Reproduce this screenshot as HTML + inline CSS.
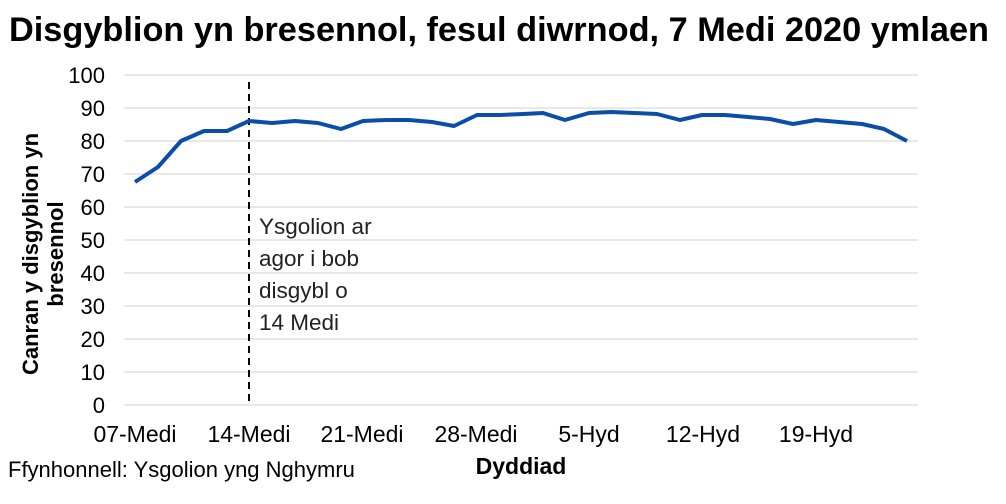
<!DOCTYPE html>
<html><head><meta charset="utf-8"><style>
body{margin:0;background:#fff}
svg{display:block;font-family:"Liberation Sans",Arial,sans-serif}
</style></head><body>
<svg width="1006" height="504" viewBox="0 0 1006 504">
<text x="499" y="41" text-anchor="middle" font-size="34" font-weight="bold" fill="#000" textLength="980" lengthAdjust="spacingAndGlyphs">Disgyblion yn bresennol, fesul diwrnod, 7 Medi 2020 ymlaen</text>
<g stroke="#d9d9d9" stroke-width="1.3">
<line x1="124" x2="918" y1="75" y2="75"/><line x1="124" x2="918" y1="108" y2="108"/><line x1="124" x2="918" y1="141" y2="141"/><line x1="124" x2="918" y1="174" y2="174"/><line x1="124" x2="918" y1="207" y2="207"/><line x1="124" x2="918" y1="240" y2="240"/><line x1="124" x2="918" y1="273" y2="273"/><line x1="124" x2="918" y1="306" y2="306"/><line x1="124" x2="918" y1="339" y2="339"/><line x1="124" x2="918" y1="372" y2="372"/><line x1="124" x2="918" y1="405" y2="405"/>
</g>
<g font-size="22" fill="#000" text-anchor="end">
<text x="105" y="83">100</text><text x="105" y="116">90</text><text x="105" y="149">80</text><text x="105" y="182">70</text><text x="105" y="215">60</text><text x="105" y="248">50</text><text x="105" y="281">40</text><text x="105" y="314">30</text><text x="105" y="347">20</text><text x="105" y="380">10</text><text x="105" y="413">0</text>
</g>
<g font-size="23" fill="#000" text-anchor="middle">
<text x="135" y="442">07-Medi</text><text x="249" y="442">14-Medi</text><text x="362" y="442">21-Medi</text><text x="476" y="442">28-Medi</text><text x="589" y="442">5-Hyd</text><text x="703" y="442">12-Hyd</text><text x="816" y="442">19-Hyd</text>
</g>
<text x="521" y="474" text-anchor="middle" font-size="23" font-weight="bold">Dyddiad</text>
<text x="8" y="477" font-size="22">Ffynhonnell: Ysgolion yng Nghymru</text>
<text transform="translate(38,254) rotate(-90)" text-anchor="middle" font-size="22" font-weight="bold">Canran y disgyblion yn</text>
<text transform="translate(63,254) rotate(-90)" text-anchor="middle" font-size="22" font-weight="bold">bresennol</text>
<line x1="249" y1="82" x2="249" y2="405" stroke="#000" stroke-width="2" stroke-dasharray="7,5"/>
<g font-size="22.5" fill="#222">
<text x="259" y="234">Ysgolion ar</text><text x="259" y="266">agor i bob</text><text x="259" y="298">disgybl o</text><text x="259" y="330">14 Medi</text>
</g>
<polyline fill="none" stroke="#0a4ea8" stroke-width="4" stroke-linejoin="round" points="135,182 158,167 181,141 204,131 227,131 249,121 272,123 295,121 318,123 341,129 363,121 386,120 409,120 432,122 454,126 477,115 500,115 523,114 543,113 565,120 589,113 611,112 634,113 657,114 680,120 702,115 725,115 748,117 770,119 793,124 816,120 839,122 862,124 884,129 907,141"/>
</svg>
</body></html>
